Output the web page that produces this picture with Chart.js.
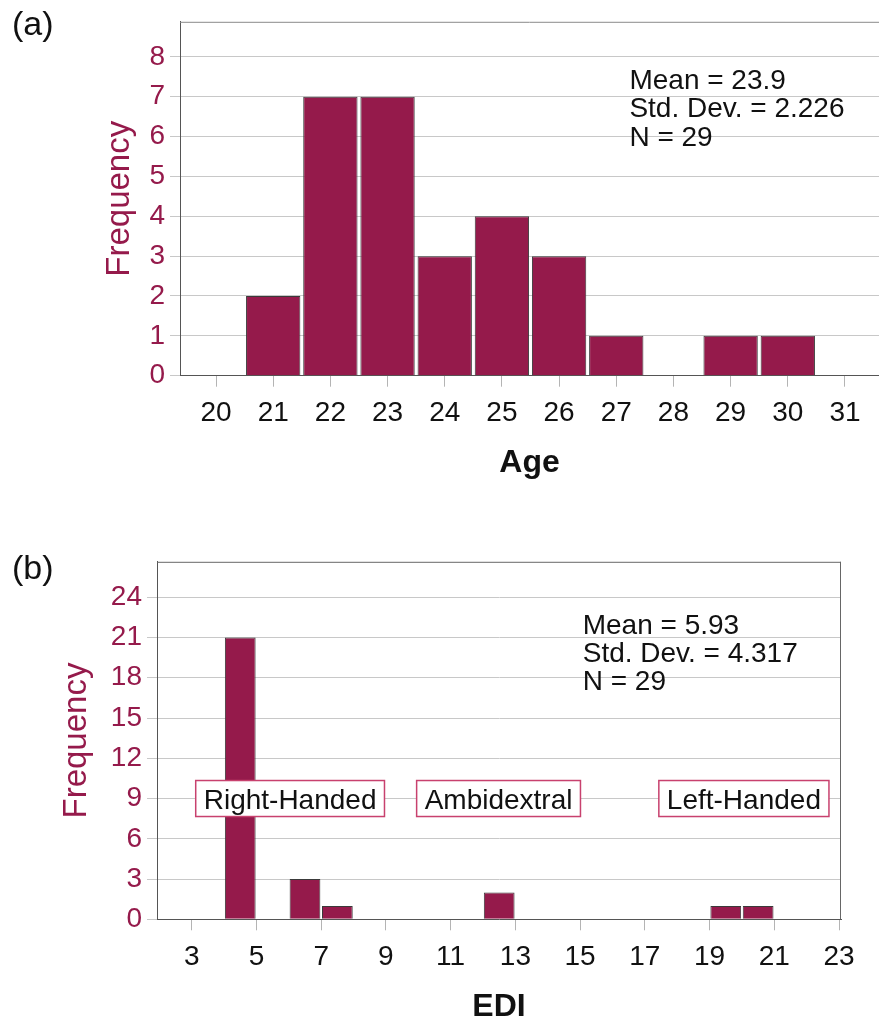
<!DOCTYPE html>
<html>
<head>
<meta charset="utf-8">
<title>Age and EDI histograms</title>
<script src="https://cdn.jsdelivr.net/npm/chart.js@4.4.0/dist/chart.umd.min.js"></script>
<style>
  html, body { margin: 0; padding: 0; background: #fff; }
  body { width: 879px; height: 1018px; position: relative; overflow: hidden; font-family: 'Liberation Sans', Arial, sans-serif; }
  canvas { position: absolute; left: 0; }
  .panel-tag { position: absolute; left: 12px; font-size: 34px; line-height: 34px; color: #111; }
</style>
</head>
<body>
<canvas id="age-chart" width="879" height="500" style="top:0"></canvas>
<canvas id="edi-chart" width="879" height="478" style="top:540px"></canvas>
<div class="panel-tag" style="top:6px">(a)</div>
<div class="panel-tag" style="top:550px">(b)</div>
<script>
// (a) age histogram, one bar per year of age
const ageBins = [21, 22, 23, 24, 25, 26, 27, 29, 30];
const ageCounts = [2, 7, 7, 3, 4, 3, 1, 1, 1];
const ageTicks = [20, 21, 22, 23, 24, 25, 26, 27, 28, 29, 30, 31];
const ageFreqTicks = [0, 1, 2, 3, 4, 5, 6, 7, 8];
const ageStats = ['Mean = 23.9', 'Std. Dev. = 2.226', 'N = 29'];

// (b) EDI histogram, bins of width 1 (given by their centres)
const ediBins = [4.5, 6.5, 7.5, 12.5, 19.5, 20.5];
const ediCounts = [21, 3, 1, 2, 1, 1];
const ediTicks = [3, 5, 7, 9, 11, 13, 15, 17, 19, 21, 23];
const ediFreqTicks = [0, 3, 6, 9, 12, 15, 18, 21, 24];
const ediStats = ['Mean = 5.93', 'Std. Dev. = 4.317', 'N = 29'];
const handLabels = ['Right-Handed', 'Ambidextral', 'Left-Handed'];

const MAROON = '#951a4b';
const FONT = '"Liberation Sans", Arial, sans-serif';
Chart.defaults.font.family = FONT;

// top / right frame, stats block and boxed group labels
function makeExtras({ stats, boxes = [], rightBorder = false }) {
  return {
    id: 'extras',
    afterDatasetsDraw(chart) {
      const { ctx, chartArea: a, scales: { x, y } } = chart;
      ctx.save();
      ctx.strokeStyle = '#8a8a8a';
      ctx.lineWidth = 1;
      ctx.beginPath();
      ctx.moveTo(a.left, a.top + 0.5);
      ctx.lineTo(a.right, a.top + 0.5);
      if (rightBorder) {
        ctx.strokeStyle = '#666';
        ctx.moveTo(a.right - 0.5, a.top);
        ctx.lineTo(a.right - 0.5, a.bottom);
      }
      ctx.stroke();

      ctx.font = '28px ' + FONT;
      ctx.fillStyle = '#111';
      ctx.textAlign = 'left';
      ctx.textBaseline = 'alphabetic';
      const sx = x.getPixelForValue(stats.x);
      const sy = y.getPixelForValue(stats.y);
      stats.lines.forEach((t, i) => ctx.fillText(t, sx, sy + i * 28.2));

      boxes.forEach(b => {
        const w = ctx.measureText(b.text).width + 16;
        const h = 36;
        const cx = x.getPixelForValue(b.x);
        const cy = y.getPixelForValue(b.y);
        ctx.fillStyle = '#fff';
        ctx.fillRect(cx - w / 2, cy - h / 2, w, h);
        ctx.strokeStyle = '#c8416e';
        ctx.lineWidth = 1.5;
        ctx.strokeRect(cx - w / 2, cy - h / 2, w, h);
        ctx.fillStyle = '#111';
        ctx.textAlign = 'center';
        ctx.fillText(b.text, cx, cy + 10);
      });
      ctx.restore();
    }
  };
}

function histogram(canvas, cfg) {
  return new Chart(canvas, {
    type: 'bar',
    data: {
      datasets: [{
        data: cfg.bins.map((b, i) => ({ x: b, y: cfg.counts[i] })),
        backgroundColor: MAROON,
        borderColor: '#3a3a3a',
        borderWidth: 1,
        barPercentage: 0.95,
        categoryPercentage: 1
      }]
    },
    options: {
      responsive: false,
      animation: false,
      layout: { padding: cfg.padding },
      plugins: { legend: { display: false }, tooltip: { enabled: false } },
      scales: {
        x: {
          type: 'linear',
          min: cfg.xMin,
          max: cfg.xMax,
          offset: false,
          afterBuildTicks: s => { s.ticks = cfg.xTicks.map(v => ({ value: v })); },
          afterFit: s => { s.height = cfg.xHeight; },
          grid: { display: true, offset: false, drawOnChartArea: false, drawTicks: true, tickLength: 11, color: '#b4b4b4' },
          border: { display: true, color: '#555', width: 1 },
          ticks: { color: '#111', font: { size: 28 }, padding: 10, maxRotation: 0, autoSkip: false },
          title: {
            display: true, text: cfg.xTitle, color: '#111',
            font: { size: 32, weight: 'bold', lineHeight: 0.6 },
            padding: { top: 0, bottom: cfg.xTitlePad }
          }
        },
        y: {
          min: 0,
          max: cfg.yMax,
          afterBuildTicks: s => { s.ticks = cfg.yTicks.map(v => ({ value: v })); },
          afterFit: s => { s.width = cfg.yWidth; },
          grid: { color: '#c8c8c8', tickLength: 10 },
          border: { display: true, color: '#555', width: 1 },
          ticks: { color: MAROON, font: { size: 28 }, padding: 5 },
          title: {
            display: true, text: 'Frequency', color: MAROON,
            font: { size: 33, lineHeight: 1 },
            padding: { top: cfg.yTitlePad, bottom: 0 }
          }
        }
      }
    },
    plugins: [makeExtras(cfg.extras)]
  });
}

histogram(document.getElementById('age-chart'), {
  bins: ageBins, counts: ageCounts,
  xTicks: ageTicks, yTicks: ageFreqTicks,
  xMin: 19.37, xMax: 31.595, yMax: 8.88,
  xTitle: 'Age', xHeight: 124.3, xTitlePad: 27, yWidth: 180, yTitlePad: 103.5,
  padding: { top: 13, right: 0, left: 0, bottom: 0 },
  extras: { stats: { x: 27.23, y: 7.19, lines: ageStats } }
});

histogram(document.getElementById('edi-chart'), {
  bins: ediBins, counts: ediCounts,
  xTicks: ediTicks, yTicks: ediFreqTicks,
  xMin: 1.928, xMax: 23.06, yMax: 26.64,
  xTitle: 'EDI', xHeight: 98.7, xTitlePad: 1, yWidth: 157, yTitlePad: 60,
  padding: { top: 16, right: 38, left: 0, bottom: 0 },
  extras: {
    stats: { x: 15.08, y: 21.29, lines: ediStats },
    rightBorder: true,
    boxes: [
      { text: handLabels[0], x: 6.04, y: 9 },
      { text: handLabels[1], x: 12.48, y: 9 },
      { text: handLabels[2], x: 20.06, y: 9 }
    ]
  }
});
</script>
</body>
</html>
